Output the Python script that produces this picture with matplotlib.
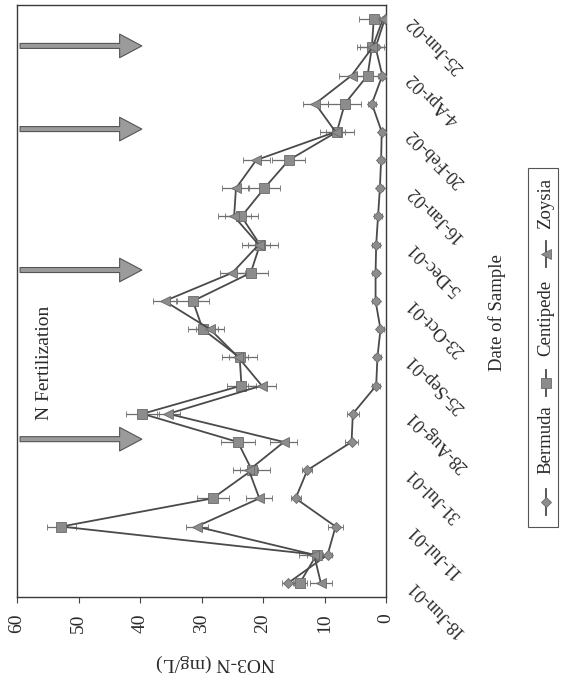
import numpy as np
import matplotlib.pyplot as plt
from matplotlib.lines import Line2D
from matplotlib.patches import Rectangle

plt.rcParams['font.family'] = ['Liberation Serif', 'DejaVu Serif']

# sampling dates (every other one is labelled on the axis)
date_labels = ['18-Jun-01', '11-Jul-01', '31-Jul-01', '28-Aug-01', '25-Sep-01', '23-Oct-01',
               '5-Dec-01', '16-Jan-02', '20-Feb-02', '4-Apr-02', '25-Jun-02']
n_samples = 21

# NO3-N (mg/L), mean and error per sample
bermuda = [15.9, 9.5, 8.2, 14.7, 12.8, 5.6, 5.4, 1.6, 1.4, 0.9, 1.7,
           1.7, 1.6, 1.3, 1.0, 0.8, 0.7, 2.3, 0.6, 1.7, 0.2]
centipede = [14.0, 11.3, 52.8, 28.2, 21.8, 24.1, 39.6, 23.5, 23.8, 29.8, 31.4,
             22.0, 20.5, 23.5, 19.8, 15.8, 8.0, 6.7, 3.0, 2.3, 2.0]
zoysia = [10.6, 11.7, 30.8, 20.6, 22.3, 16.6, 35.4, 20.2, 24.0, 28.6, 36.0,
          25.0, 20.7, 24.7, 24.4, 21.1, 8.2, 11.5, 5.6, 2.2, 0.5]

bermuda_err = [1.0, 0.7, 1.2, 0.8, 0.8, 1.1, 1.0, 0.6, 0.6, 0.5, 0.6,
               0.6, 0.6, 0.6, 0.5, 0.5, 0.5, 0.6, 0.5, 0.5, 0.4]
centipede_err = [1.2, 1.5, 2.4, 2.6, 3.0, 2.8, 2.7, 2.3, 2.9, 2.4, 2.6,
                 2.8, 2.9, 2.7, 2.6, 2.7, 2.8, 2.7, 1.7, 2.0, 2.4]
zoysia_err = [1.8, 2.4, 1.8, 2.1, 1.5, 2.2, 1.9, 2.3, 1.5, 2.3, 1.9,
              2.0, 1.8, 2.7, 2.2, 2.2, 1.5, 2.0, 2.0, 2.5, 0.5]

# N fertilization events (sample index) and arrow extent (mg/L)
fert_rows = [5.1, 11.1, 16.1, 19.05]
arrow_from, arrow_to = 59.5, 39.7

line_col = '#4a4a4a'
face_col = '#8c8c8c'
err_col = '#6e6e6e'
text_col = '#2a2a2a'

fig = plt.figure(figsize=(5.61, 6.81), dpi=100)
ax = fig.add_axes([0.0303, 0.1233, 0.6578, 0.8693])

rows = np.arange(n_samples)
series = [
    ('Bermuda', bermuda, bermuda_err, 'D', 5.5),
    ('Centipede', centipede, centipede_err, 's', 6.5),
    ('Zoysia', zoysia, zoysia_err, '<', 7.5),
]
for name, vals, err, mk, ms in series:
    ax.errorbar(vals, rows, xerr=err, color=line_col, lw=1.3, marker=mk, ms=ms,
                mfc=face_col, mec='#6a6a6a', mew=0.6, ecolor=err_col,
                elinewidth=0.9, capsize=2.5, capthick=0.9, zorder=3)

for r in fert_rows:
    ax.annotate('', xy=(arrow_to, r), xytext=(arrow_from, r),
                arrowprops=dict(arrowstyle='simple,head_length=1.6,head_width=1.7,tail_width=0.36',
                                mutation_scale=10, fc='#9b9b9b', ec='#555555', lw=0.8,
                                shrinkA=0, shrinkB=0))
ax.text(55.6, 7.8, 'N Fertilization', rotation=90, ha='center', va='center',
        fontsize=14, color=text_col)

ax.set_xlim(60, 0)
ax.set_ylim(-0.5, n_samples - 0.5)
ax.set_xticks(np.arange(0, 61, 10))
ax.tick_params(axis='x', direction='out', length=4, width=0.8, pad=8,
               labelsize=14, labelcolor=text_col, color='#444444')
for lab in ax.get_xticklabels():
    lab.set_rotation(90)
    lab.set_va('top')

ax.yaxis.tick_right()
ax.set_yticks(rows[::2])
ax.set_yticklabels(date_labels)
ax.tick_params(axis='y', length=0, pad=17, labelsize=13, labelcolor=text_col)
for lab in ax.get_yticklabels():
    lab.set_rotation(135)
    lab.set_rotation_mode('anchor')
    lab.set_ha('right')
    lab.set_va('center')

for sp in ax.spines.values():
    sp.set_color('#3a3a3a')
    sp.set_linewidth(1.0)

ax.set_xlabel('NO3-N (mg/L)', fontsize=14, color=text_col, rotation=180, va='center')
ax.xaxis.set_label_coords(0.539, -0.111)
ax.yaxis.set_label_position('right')
ax.set_ylabel('Date of Sample', fontsize=13.5, color=text_col, rotation=90,
              va='center', ha='center')
ax.yaxis.set_label_coords(1.30, 0.48)

# legend, stacked vertically to the right of the plot
W, H = 561.0, 681.0
fig.patches.append(Rectangle((528 / W, 1 - 527 / H), 30 / W, 359 / H,
                             transform=fig.transFigure, fill=False,
                             ec='#555555', lw=0.8))
leg_x = 546 / W
leg_items = [(502, 440), (383, 318), (254, 203)]
for (name, _, _, mk, ms), (ly, ty) in zip(series, leg_items):
    fig.lines.append(Line2D([leg_x, leg_x], [1 - (ly + 13) / H, 1 - (ly - 13) / H],
                            transform=fig.transFigure, color=line_col, lw=1.3))
    fig.lines.append(Line2D([leg_x], [1 - ly / H], transform=fig.transFigure,
                            marker=mk, ms=ms, mfc=face_col, mec='#6a6a6a', mew=0.6))
    fig.text(leg_x, 1 - ty / H, name, rotation=90, ha='center', va='center',
             fontsize=13.5, color=text_col)

fig.savefig('out.png', dpi=100)
